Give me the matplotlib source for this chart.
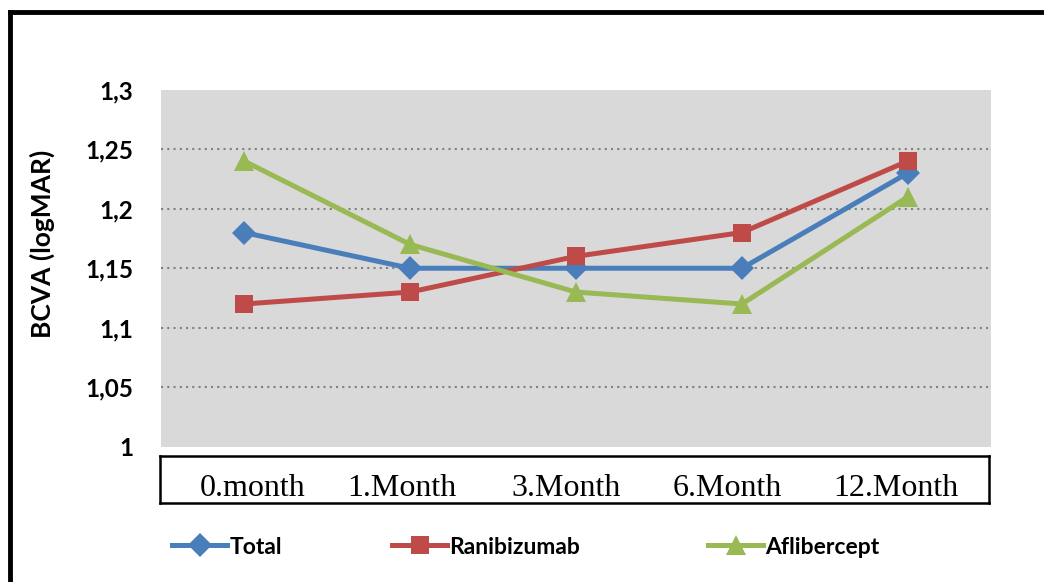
import numpy as np
import matplotlib
matplotlib.use('Agg')
import matplotlib.pyplot as plt
from matplotlib.lines import Line2D

# data
months = ['0.month', '1.Month', '3.Month', '6.Month', '12.Month']
total = [1.18, 1.15, 1.15, 1.15, 1.23]
ranibizumab = [1.12, 1.13, 1.16, 1.18, 1.24]
aflibercept = [1.24, 1.17, 1.13, 1.12, 1.21]
yticks = [1.0, 1.05, 1.1, 1.15, 1.2, 1.25, 1.3]
ytick_labels = ['1', '1,05', '1,1', '1,15', '1,2', '1,25', '1,3']

W, H = 1044, 582
fig = plt.figure(figsize=(W / 100, H / 100), dpi=100)
fig.patch.set_facecolor('white')

sans = ['Lato', 'DejaVu Sans']
serif = ['Liberation Serif', 'DejaVu Serif']

ax = fig.add_axes([161 / W, 1 - 447 / H, 830 / W, 357.5 / H])
ax.set_facecolor('#d9d9d9')
for s in ax.spines.values():
    s.set_visible(False)

x = np.arange(len(months))
series = [
    ('Total', total, '#4a7ebb', 'D', 12),
    ('Ranibizumab', ranibizumab, '#be4b48', 's', 13),
    ('Aflibercept', aflibercept, '#98b954', '^', 14),
]
handles = []
for name, vals, col, mk, ms in series:
    h, = ax.plot(x, vals, color=col, lw=3.6, marker=mk, markersize=ms,
                 markeredgewidth=0, label=name, zorder=3)
    handles.append(h)

ax.set_xlim(-0.5, len(months) - 0.5)
ax.set_ylim(1.0, 1.3)
ax.set_xticks([])
ax.set_yticks(yticks)
ax.set_yticklabels(ytick_labels, fontfamily=sans, fontweight='bold', fontsize=17.5)
ax.tick_params(axis='y', length=0, pad=20)
for g in yticks[1:-1]:
    ax.axhline(g, color='#808080', lw=1.5, ls=(0, (1, 2)), zorder=1)

fig.text(42 / W, 1 - 244 / H, 'BCVA (logMAR)', rotation=90, ha='center', va='center',
         fontfamily=sans, fontweight='bold', fontsize=19)

# box holding the category labels (a loose text box, labels not quite on the points)
ax2 = fig.add_axes([160 / W, 1 - 503 / H, 829 / W, 47 / H])
ax2.set_xlim(-0.5, len(months) - 0.5)
ax2.set_ylim(0, 1)
ax2.set_xticks([])
ax2.set_yticks([])
for s in ax2.spines.values():
    s.set_linewidth(1.8)
    s.set_color('black')
label_shift = [0.06, -0.04, -0.05, -0.08, -0.06]
for i, m in enumerate(months):
    ax2.text(i + label_shift[i], 0.3, m, ha='center', va='center', fontfamily=serif, fontsize=23)

# legend, three separate entries
leg_x = [172, 392, 708]
for h, lx in zip(handles, leg_x):
    fig.legend(handles=[h], loc='center left', bbox_to_anchor=(lx / W, 1 - 547 / H),
               frameon=False, handlelength=2.4, handletextpad=0.1, borderpad=0,
               borderaxespad=0, prop={'family': sans, 'weight': 'bold', 'size': 16.5})

# outer frame (only top and left visible in the crop)
fig.add_artist(Line2D([10 / W, 1.0], [1 - 12 / H, 1 - 12 / H], color='black', lw=3.5,
                      transform=fig.transFigure))
fig.add_artist(Line2D([10 / W, 10 / W], [0, 1 - 12 / H], color='black', lw=3.5,
                      transform=fig.transFigure))

fig.savefig('out.png', dpi=100)
